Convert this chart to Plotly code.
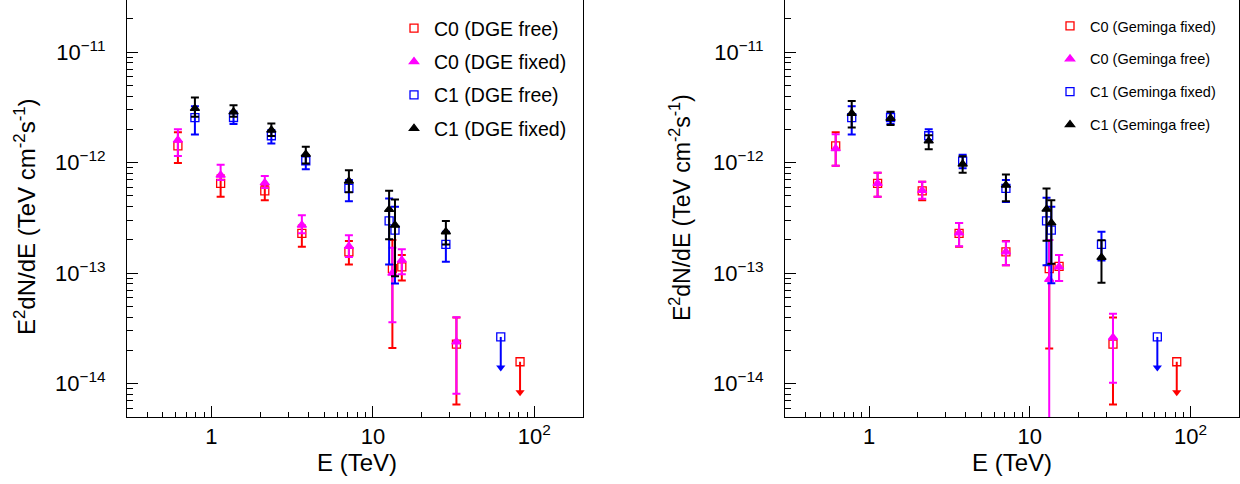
import plotly.graph_objects as go

# ---------------- data: left panel (DGE) ----------------
L_E_C0 = [0.62, 1.14, 2.14, 3.63, 7.1, 13.2, 15.1, 32.9]
L_E_C1 = [0.79, 1.37, 2.35, 3.84, 7.1, 12.6, 13.7, 28.3]

L_C0_free_val = [1.42e-12, 6.5e-13, 5.56e-13, 2.29e-13, 1.56e-13, 1.1e-13, 1.14e-13, 2.28e-14]
L_C0_free_hi = [1.88e-12, 7.7e-13, 6.25e-13, 2.7e-13, 1.95e-13, 2.0e-13, 1.46e-13, 3.97e-14]
L_C0_free_lo = [9.9e-13, 4.9e-13, 4.57e-13, 1.73e-13, 1.2e-13, 2.1e-14, 8.6e-14, 6.5e-15]

L_C0_fixed_val = [1.6e-12, 7.7e-13, 6.56e-13, 2.72e-13, 1.75e-13, 1.0e-13, 1.31e-13, 2.39e-14]
L_C0_fixed_hi = [2.0e-12, 9.55e-13, 7.55e-13, 3.35e-13, 2.2e-13, 1.7e-13, 1.65e-13, 4.0e-14]
L_C0_fixed_lo = [1.15e-12, 6.95e-13, 5.9e-13, 2.3e-13, 1.4e-13, 3.6e-14, 9.8e-14, 8.1e-15]

L_C1_free_val = [2.55e-12, 2.56e-12, 1.75e-12, 1.04e-12, 5.84e-13, 2.97e-13, 2.45e-13, 1.82e-13]
L_C1_free_hi = [3.24e-12, 2.9e-12, 1.97e-12, 1.17e-12, 6.95e-13, 4.74e-13, 3.98e-13, 2.37e-13]
L_C1_free_lo = [1.8e-12, 2.23e-12, 1.49e-12, 8.7e-13, 4.48e-13, 1.2e-13, 8.07e-14, 1.27e-13]

L_C1_fixed_val = [3.09e-12, 2.88e-12, 1.97e-12, 1.19e-12, 6.8e-13, 3.77e-13, 2.72e-13, 2.37e-13]
L_C1_fixed_hi = [3.89e-12, 3.3e-12, 2.26e-12, 1.39e-12, 8.55e-13, 5.56e-13, 4.65e-13, 2.97e-13]
L_C1_fixed_lo = [2.6e-12, 2.6e-12, 1.74e-12, 9.8e-13, 5.4e-13, 2.03e-13, 9.4e-14, 1.82e-13]

L_UL_C0_E, L_UL_C0_val = [81.5], [1.58e-14]
L_UL_C1_E, L_UL_C1_val = [61.9], [2.65e-14]

# ---------------- data: right panel (Geminga) ----------------
R_E_C0 = [0.62, 1.13, 2.14, 3.63, 7.1, 13.2, 15.2, 32.9]
R_E_C1 = [0.78, 1.36, 2.35, 3.82, 7.1, 12.7, 13.6, 27.9]

R_C0_fixed_val = [1.42e-12, 6.5e-13, 5.56e-13, 2.29e-13, 1.56e-13, 1.1e-13, 1.15e-13, 2.28e-14]
R_C0_fixed_hi = [1.88e-12, 8.1e-13, 6.7e-13, 2.84e-13, 1.95e-13, 2.0e-13, 1.46e-13, 3.97e-14]
R_C0_fixed_lo = [9.35e-13, 4.9e-13, 4.57e-13, 1.73e-13, 1.18e-13, 2.08e-14, 8.5e-14, 6.5e-15]

R_C0_free_val = [1.34e-12, 6.5e-13, 5.6e-13, 2.32e-13, 1.56e-13, 8.8e-14, 1.14e-13, 2.62e-14]
R_C0_free_hi = [1.81e-12, 8.1e-13, 6.7e-13, 2.84e-13, 1.93e-13, 2.0e-13, 1.46e-13, 4.3e-14]
R_C0_free_lo = [9.35e-13, 4.9e-13, 4.7e-13, 1.75e-13, 1.18e-13, 2.0e-15, 8.5e-14, 1.02e-14]

R_C1_fixed_val = [2.55e-12, 2.55e-12, 1.75e-12, 1.03e-12, 5.84e-13, 2.97e-13, 2.45e-13, 1.82e-13]
R_C1_fixed_hi = [3.24e-12, 2.84e-12, 2.0e-12, 1.18e-12, 6.95e-13, 4.8e-13, 3.98e-13, 2.37e-13]
R_C1_fixed_lo = [1.8e-12, 2.23e-12, 1.54e-12, 8.9e-13, 4.4e-13, 1.18e-13, 8.1e-14, 1.3e-13]

R_C1_free_val = [2.79e-12, 2.52e-12, 1.57e-12, 9.7e-13, 6.25e-13, 3.79e-13, 2.85e-13, 1.39e-13]
R_C1_free_hi = [3.6e-12, 2.88e-12, 1.77e-12, 1.14e-12, 7.8e-13, 5.84e-13, 4.57e-13, 1.99e-13]
R_C1_free_lo = [2.08e-12, 2.19e-12, 1.32e-12, 8.1e-13, 4.48e-13, 1.96e-13, 1.22e-13, 8.2e-14]

R_UL_C0_E, R_UL_C0_val = [82.0], [1.58e-14]
R_UL_C1_E, R_UL_C1_val = [62.1], [2.65e-14]

Y_TICKS = [1e-14, 1e-13, 1e-12, 1e-11]
Y_TICKTEXT = ["10<sup>\u221214</sup>", "10<sup>\u221213</sup>", "10<sup>\u221212</sup>", "10<sup>\u221211</sup>"]
X_TICKS = [1, 10, 100]
X_TICKTEXT = ["1", "10", "10<sup>2</sup>"]

RED, MAG, BLUE, BLACK = "#ff0000", "#ff00ff", "#0000ff", "#000000"
FONT = "Liberation Sans, Arial, sans-serif"
ARROW_FRAC = 0.53

fig = go.Figure()


def add_series(E, val, hi, lo, name, color, symbol, xa, ya, legend, group):
    fig.add_trace(go.Scatter(
        x=E, y=val, mode="markers", name=name, xaxis=xa, yaxis=ya,
        legend=legend, legendgroup=group,
        marker=dict(symbol=symbol, size=8, color=color,
                    line=dict(color=color, width=1.3)),
        error_y=dict(type="data", symmetric=False,
                     array=[h - v for h, v in zip(hi, val)],
                     arrayminus=[v - l for v, l in zip(val, lo)],
                     color=color, thickness=2, width=4),
    ))


def add_ul(E, val, color, xa, ya):
    for e, v in zip(E, val):
        fig.add_trace(go.Scatter(x=[e, e], y=[v, v * ARROW_FRAC], mode="lines",
                                 line=dict(color=color, width=2), xaxis=xa, yaxis=ya,
                                 showlegend=False, hoverinfo="skip"))
    fig.add_trace(go.Scatter(x=E, y=[v * ARROW_FRAC for v in val], mode="markers",
                             marker=dict(symbol="triangle-down", size=8, color=color),
                             xaxis=xa, yaxis=ya, showlegend=False))
    fig.add_trace(go.Scatter(x=E, y=val, mode="markers",
                             marker=dict(symbol="square-open", size=8, color=color,
                                         line=dict(color=color, width=1.3)),
                             xaxis=xa, yaxis=ya, showlegend=False))


# left panel
add_ul(L_UL_C0_E, L_UL_C0_val, RED, "x", "y")
add_series(L_E_C0, L_C0_free_val, L_C0_free_hi, L_C0_free_lo, "C0 (DGE free)", RED, "square-open", "x", "y", "legend", "l1")
add_series(L_E_C0, L_C0_fixed_val, L_C0_fixed_hi, L_C0_fixed_lo, "C0 (DGE fixed)", MAG, "triangle-up", "x", "y", "legend", "l2")
add_ul(L_UL_C1_E, L_UL_C1_val, BLUE, "x", "y")
add_series(L_E_C1, L_C1_free_val, L_C1_free_hi, L_C1_free_lo, "C1 (DGE free)", BLUE, "square-open", "x", "y", "legend", "l3")
add_series(L_E_C1, L_C1_fixed_val, L_C1_fixed_hi, L_C1_fixed_lo, "C1 (DGE fixed)", BLACK, "triangle-up", "x", "y", "legend", "l4")

# right panel
add_ul(R_UL_C0_E, R_UL_C0_val, RED, "x2", "y2")
add_series(R_E_C0, R_C0_fixed_val, R_C0_fixed_hi, R_C0_fixed_lo, "C0 (Geminga fixed)", RED, "square-open", "x2", "y2", "legend2", "r1")
add_series(R_E_C0, R_C0_free_val, R_C0_free_hi, R_C0_free_lo, "C0 (Geminga free)", MAG, "triangle-up", "x2", "y2", "legend2", "r2")
add_ul(R_UL_C1_E, R_UL_C1_val, BLUE, "x2", "y2")
add_series(R_E_C1, R_C1_fixed_val, R_C1_fixed_hi, R_C1_fixed_lo, "C1 (Geminga fixed)", BLUE, "square-open", "x2", "y2", "legend2", "r3")
add_series(R_E_C1, R_C1_free_val, R_C1_free_hi, R_C1_free_lo, "C1 (Geminga free)", BLACK, "triangle-up", "x2", "y2", "legend2", "r4")

W, H = 1240, 484
Y_DOM = [1 - 417 / H, 1.0]


def xaxis(dom, anchor):
    return dict(domain=dom, anchor=anchor, type="log", range=[-0.5229, 2.301],
                showline=True, linecolor="black", linewidth=1, mirror=False,
                ticks="inside", ticklen=11, tickwidth=1, tickcolor="black",
                tickmode="array", tickvals=X_TICKS, ticktext=X_TICKTEXT,
                tickfont=dict(family=FONT, size=22, color="black"),
                ticklabelstandoff=0,
                minor=dict(ticks="inside", ticklen=5, tickwidth=1, tickcolor="black", dtick="D1", showgrid=False),
                showgrid=False, zeroline=False)


def yaxis(anchor):
    return dict(domain=Y_DOM, anchor=anchor, type="log", range=[-14.301, -10.529],
                showline=True, linecolor="black", linewidth=1, mirror=True,
                ticks="inside", ticklen=11, tickwidth=1, tickcolor="black",
                tickmode="array", tickvals=Y_TICKS, ticktext=Y_TICKTEXT,
                tickfont=dict(family=FONT, size=22, color="black"),
                ticklabelstandoff=16,
                minor=dict(ticks="inside", ticklen=6, tickwidth=1, tickcolor="black", dtick="D1", showgrid=False),
                showgrid=False, zeroline=False)


YTITLE = "E<sup>2</sup>dN/dE (TeV cm<sup>-2</sup>s<sup>-1</sup>)"

fig.update_layout(
    width=W, height=H, margin=dict(l=0, r=0, t=0, b=0),
    paper_bgcolor="white", plot_bgcolor="white",
    font=dict(family=FONT, color="black"),
    xaxis=xaxis([127 / W, 583 / W], "y"),
    yaxis=yaxis("x"),
    xaxis2=xaxis([785 / W, 1239 / W], "y2"),
    yaxis2=yaxis("x2"),
    legend=dict(x=394 / W, y=1 - 9 / H, xanchor="left", yanchor="top",
                font=dict(family=FONT, size=19.5, color="black"),
                bgcolor="rgba(0,0,0,0)", traceorder="grouped", tracegroupgap=5),
    legend2=dict(x=1050 / W, y=1 - 10 / H, xanchor="left", yanchor="top",
                 font=dict(family=FONT, size=14.5, color="black"),
                 bgcolor="rgba(0,0,0,0)", traceorder="grouped", tracegroupgap=11),
    annotations=[
        dict(text="E (TeV)", x=357 / W, y=1 - 462 / H, xref="paper", yref="paper",
             showarrow=False, font=dict(family=FONT, size=24), xanchor="center", yanchor="middle"),
        dict(text="E (TeV)", x=1012 / W, y=1 - 462 / H, xref="paper", yref="paper",
             showarrow=False, font=dict(family=FONT, size=24), xanchor="center", yanchor="middle"),
        dict(text=YTITLE, x=25 / W, y=1 - 217 / H, xref="paper", yref="paper", textangle=-90,
             showarrow=False, font=dict(family=FONT, size=24), xanchor="center", yanchor="middle"),
        dict(text=YTITLE, x=680 / W, y=1 - 208 / H, xref="paper", yref="paper", textangle=-90,
             showarrow=False, font=dict(family=FONT, size=23), xanchor="center", yanchor="middle"),
    ],
)

fig.write_html("out.html")
